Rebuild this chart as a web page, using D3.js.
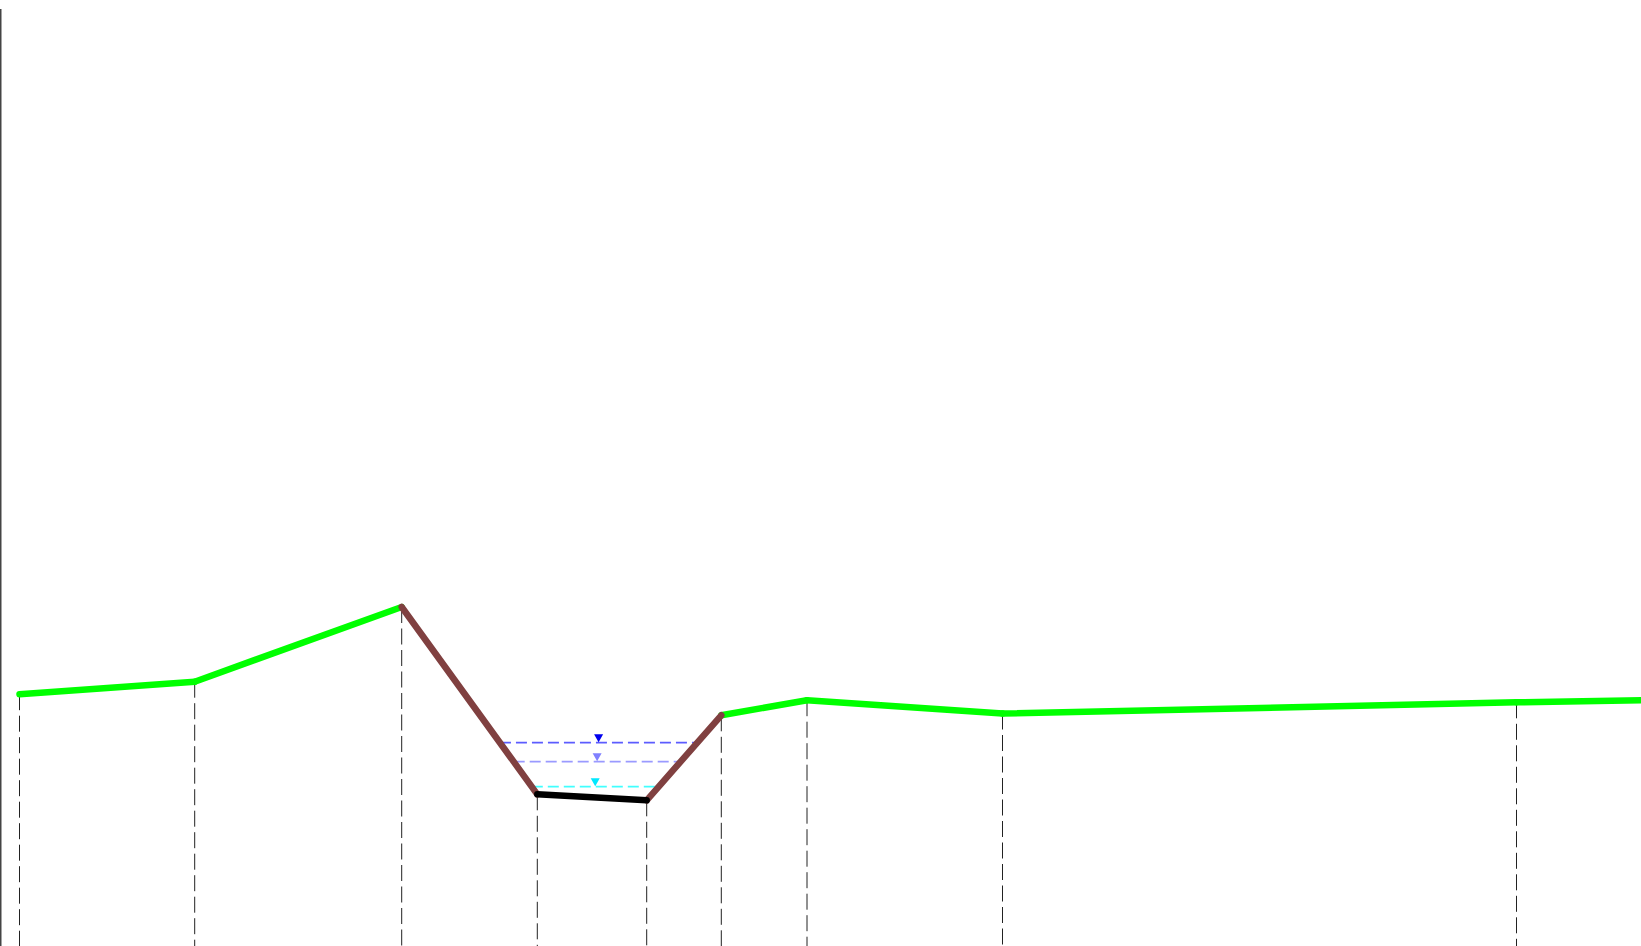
<!DOCTYPE html>
<html>
<head>
<meta charset="utf-8">
<script src="https://cdn.jsdelivr.net/npm/d3@7"></script>
<style>
  html, body { margin: 0; padding: 0; background: #fff; overflow: hidden; }
  svg { display: block; }
</style>
</head>
<body>
<svg id="chart" width="1641" height="946"></svg>
<script>
// Cross-section ground points (station, elevation)
const stations   = [3.9, 38.94, 80.34, 107.46, 129.34, 144.26, 161.4, 200.5, 303.3, 340];
const elevations = [25.18, 26.43, 33.9, 15.17, 14.57, 23.07, 24.58, 23.25, 24.37, 24.66];
// segment type for each span between consecutive points
const segmentTypes = ["overbank", "overbank", "bank", "channel", "bank", "overbank", "overbank", "overbank", "overbank"];
// water surface elevations
const waterNames  = ["WS 1", "WS 2", "WS 3"];
const waterLevels = [20.33, 18.43, 15.93];

const W = 1641, H = 946;
const x = d3.scaleLinear().domain([0, 328.2]).range([0, W]);
const y = d3.scaleLinear().domain([0, 94.6]).range([H, 0]);

const svg = d3.select("#chart");

const segColor = { overbank: "#00ff00", bank: "#804040", channel: "#000000" };
const waterLine = ["#5c5cff", "#9a9aff", "#40ffff"];
const waterMark = ["#0000ee", "#8080ff", "#00e8ff"];

const pts = stations.map((s, i) => ({ s, e: elevations[i] }));

// left axis line
svg.append("line")
  .attr("x1", 0.75).attr("x2", 0.75)
  .attr("y1", 9).attr("y2", H)
  .attr("stroke", "#444").attr("stroke-width", 1.5);

// vertical dashed station lines
svg.append("g").selectAll("line")
  .data(pts.slice(0, pts.length - 1))
  .join("line")
  .attr("x1", d => x(d.s)).attr("x2", d => x(d.s))
  .attr("y1", d => y(d.e)).attr("y2", y(0))
  .attr("stroke", "#222").attr("stroke-width", 1)
  .attr("stroke-dasharray", "16,5.5");

// water surfaces: bank-to-bank intersections
function crossing(level, i0, i1) {
  const a = pts[i0], b = pts[i1];
  const t = (level - a.e) / (b.e - a.e);
  return a.s + t * (b.s - a.s);
}
const water = waterLevels.map((lv, k) => {
  const left = crossing(lv, 2, 3);
  const right = crossing(lv, 4, 5);
  return { name: waterNames[k], lv, left, right, k };
});

const wg = svg.append("g");
wg.selectAll("line")
  .data(water)
  .join("line")
  .attr("x1", d => x(d.left)).attr("x2", d => x(d.right))
  .attr("y1", d => y(d.lv)).attr("y2", d => y(d.lv))
  .attr("stroke", d => waterLine[d.k]).attr("stroke-width", 1.8)
  .attr("stroke-dasharray", "11,5");

wg.selectAll("path")
  .data(water)
  .join("path")
  .attr("d", d => {
    const cx = x((d.left + d.right) / 2), cy = y(d.lv);
    return `M${cx - 4.5},${cy - 8.5}L${cx + 4.5},${cy - 8.5}L${cx},${cy - 0.5}Z`;
  })
  .attr("fill", d => waterMark[d.k]);

// ground segments
const line = d3.line().x(d => x(d.s)).y(d => y(d.e));
const segs = segmentTypes.map((t, i) => ({ t, p: [pts[i], pts[i + 1]] }));
const order = ["overbank", "bank", "channel"];
svg.append("g").selectAll("path")
  .data(segs.slice().sort((a, b) => order.indexOf(a.t) - order.indexOf(b.t)))
  .join("path")
  .attr("d", d => line(d.p))
  .attr("fill", "none")
  .attr("stroke", d => segColor[d.t])
  .attr("stroke-width", 6.5)
  .attr("stroke-linecap", "round")
  .attr("stroke-linejoin", "round");
</script>
</body>
</html>
